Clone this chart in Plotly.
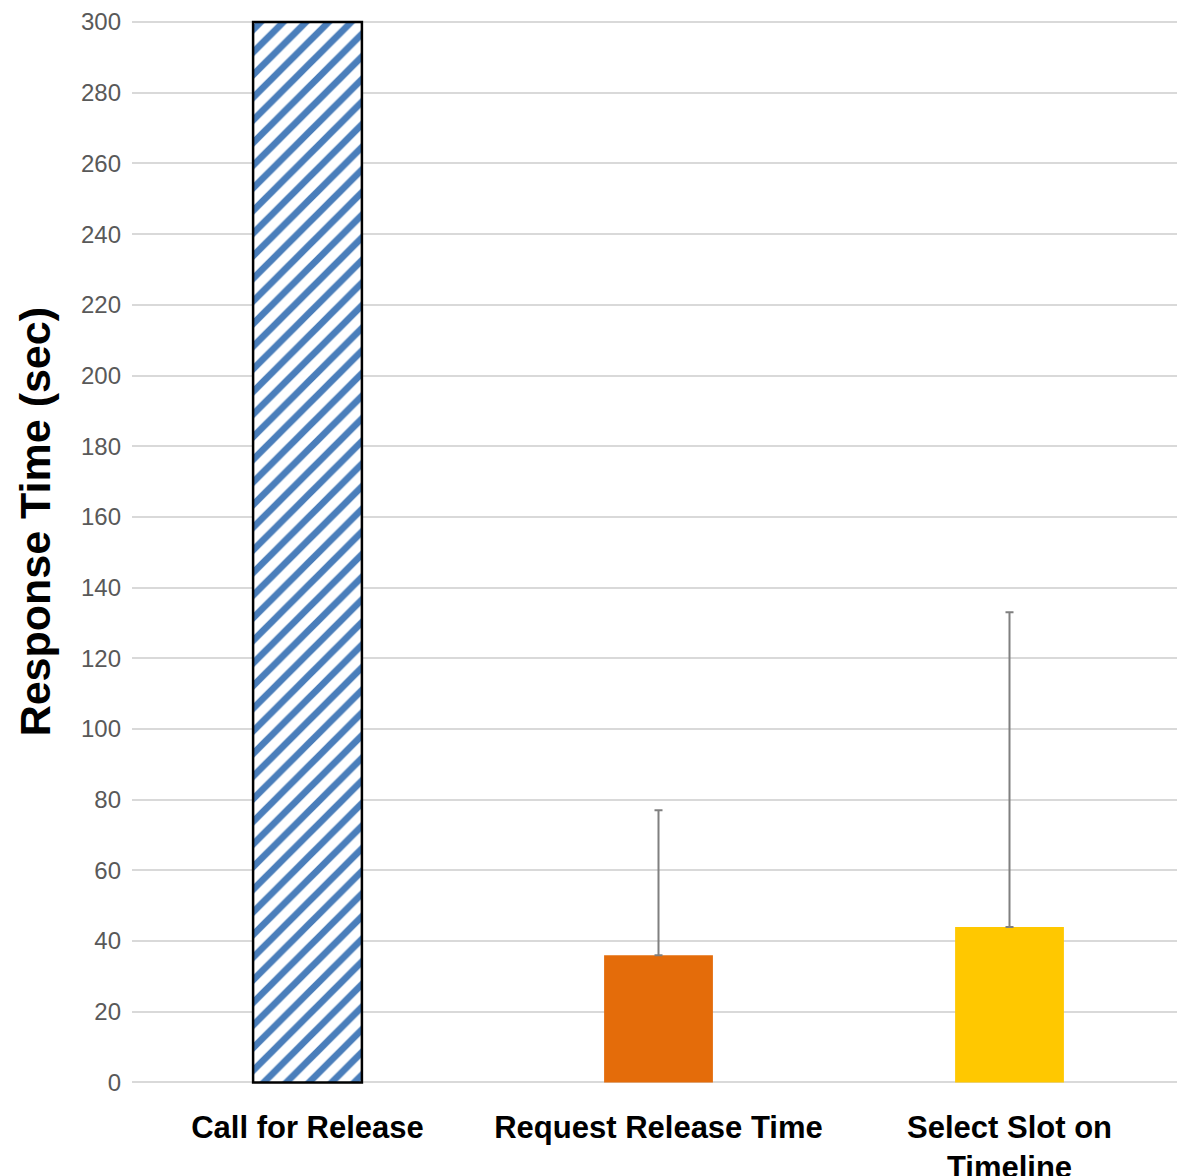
import plotly.graph_objects as go

categories = ["Call for Release", "Request Release Time", "Select Slot on<br>Timeline"]
values = [300, 36, 44]
err_plus = [0, 41, 89]
y_ticks = list(range(0, 301, 20))

fig = go.Figure()
# hatched bar
fig.add_trace(go.Bar(
    x=categories[:1],
    y=values[:1],
    width=0.31,
    marker=dict(
        color="white",
        line=dict(color="black", width=2.5),
        pattern=dict(shape="/", fgcolor="#4A7EBB", bgcolor="white", fgopacity=1,
                     fillmode="replace", size=16, solidity=0.42),
    ),
    showlegend=False,
))
# solid bars with error bars
fig.add_trace(go.Bar(
    x=categories[1:],
    y=values[1:],
    width=0.31,
    marker=dict(color=["#E46C0A", "#FFC800"], line=dict(width=0)),
    error_y=dict(type="data", symmetric=False, array=err_plus[1:], arrayminus=[0, 0],
                 color="#808080", thickness=2, width=4),
    showlegend=False,
))

fig.update_layout(
    width=1177, height=1168,
    barmode="overlay",
    margin=dict(l=124, r=0, t=7, b=90, autoexpand=False),
    plot_bgcolor="white", paper_bgcolor="white",
    font=dict(family="Liberation Sans, Arial, sans-serif"),
)
fig.update_xaxes(
    type="category",
    categoryorder="array", categoryarray=categories,
    range=[-0.5, 2.5],
    automargin=False,
    showgrid=False, showline=False, zeroline=False,
    tickfont=dict(size=31, color="black", family="Liberation Sans, Arial, sans-serif", weight="bold"),
    ticks="", ticklabelstandoff=20,
)
fig.update_yaxes(
    range=[-1, 302],
    tickvals=y_ticks,
    automargin=False,
    showgrid=True, gridcolor="#D9D9D9", gridwidth=1.5,
    zeroline=False, showline=False,
    tickfont=dict(size=24, color="#595959"),
    ticks="", ticklabelstandoff=10,
)
fig.add_annotation(
    text="<b>Response Time (sec)</b>", textangle=-90,
    xref="paper", yref="paper", x=-0.092, y=0.5264,
    xanchor="center", yanchor="middle", showarrow=False,
    font=dict(size=43, color="black"),
)
fig.write_html("out.html")
